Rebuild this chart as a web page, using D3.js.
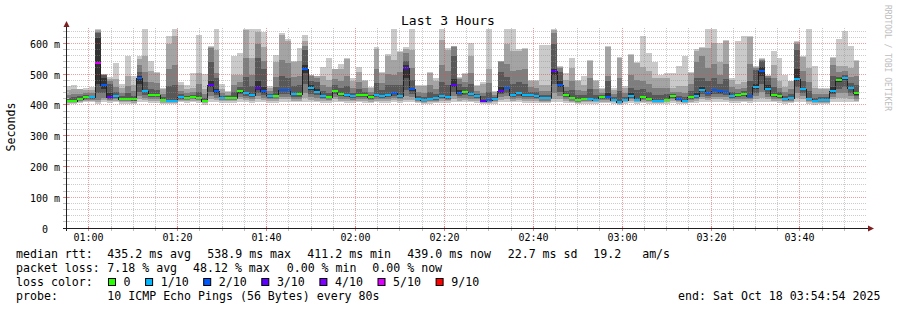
<!DOCTYPE html>
<meta charset="utf-8">
<style>
body { margin: 0; background: #fff; }
text { font-family: "DejaVu Sans Mono", monospace; fill: #000; white-space: pre; }
.minor { stroke: rgba(143,143,143,0.45); stroke-dasharray: 1,1; fill: none; }
.major { stroke: rgba(222,79,79,0.55); stroke-dasharray: 1,1; fill: none; }
</style>
<div id="chart"></div>
<script src="https://d3js.org/d3.v7.min.js"></script>
<script>

// median rtt per 80s step (ms)
var median = [416,416,422,427,426,539,467,427,430,421, 421,420,489,447,433,433,419,416,416,427,
  424,428,424,416,468,446,424,424,424,446, 440,433,457,446,431,432,450,450,436,438,
  519,456,445,430,428,448,438,433,430,435, 433,428,435,431,433,441,431,522,452,422,
  417,422,424,430,426,468,441,445,438,430, 415,418,421,446,457,435,441,433,433,430,
  424,424,511,468,433,424,417,422,422,419, 428,428,419,411,419,431,419,428,422,416,
  416,419,430,422,416,428,431,450,441,450, 446,443,431,433,438,430,459,511,454,435,
  431,422,424,487,455,422,414,417,417,446, 483,490,457,439];

// lost pings (out of 10) per step
var loss = [0,0,0,0,1,5,2,3,1,0, 0,0,2,1,0,0,0,1,1,1, 0,0,0,0,3,2,1,0,0,0,
  1,1,3,2,1,0,2,2,1,0, 2,1,1,1,0,0,0,1,1,0, 0,0,1,1,1,2,1,3,2,1,
  1,1,1,1,1,3,2,0,1,1, 3,2,1,3,2,1,1,1,1,1, 1,1,3,2,0,0,0,0,1,1,
  0,2,1,1,1,1,1,0,0,1, 1,0,0,2,1,0,1,1,2,2, 2,2,1,0,0,2,1,2,1,0,
  0,1,1,1,1,1,1,1,1,1, 0,1,1,0];

// sorted ping rtts per step (ms)
var pings = [
  [405,409,411,413,415,419,424,435,450,463],[404,408,411,413,415,419,426,437,455,465],
  [408,412,415,418,420,425,430,438,452,455],[410,414,418,422,425,430,433,440,450,457],
  [410,414,418,421,424,429,432,439,450,460],[405,412,418,440,470,620,636,640,645,650],
  [410,418,425,440,455,490,498,500,502,503],[408,413,418,422,425,440,470,480,487,491],
  [410,415,420,425,428,433,444,460,485,537],[405,410,414,417,419,424,430,441,457,470],
  [405,410,414,417,419,424,440,462,495,560],[405,409,413,416,418,423,432,446,468,495],
  [410,420,430,445,470,495,510,530,550,560],[410,418,425,435,443,450,475,509,560,650],
  [408,415,420,426,430,436,452,476,511,545],[408,414,420,426,430,436,451,473,505,510],
  [405,409,413,416,418,422,427,437,452,458],[404,408,411,413,415,419,462,517,600,627],
  [404,408,411,413,415,419,468,531,625,650],[410,414,418,422,425,430,437,448,466,475],
  [408,413,417,420,422,427,431,439,452,466],[410,415,420,424,426,431,435,444,457,506],
  [408,413,417,420,422,427,444,469,506,630],[403,408,411,413,415,419,425,436,452,503],
  [410,420,430,445,460,480,540,587,590,592],[410,418,425,435,442,455,490,506,580,650],
  [408,413,417,420,422,427,432,441,455,470],[408,413,417,420,422,427,430,435,444,446],
  [408,413,417,420,422,427,443,466,500,560],[412,420,428,436,442,449,460,476,500,569],
  [410,418,425,432,437,443,491,553,645,650],[408,415,420,426,430,436,464,500,555,650],
  [410,420,430,440,450,480,555,600,640,650],[410,418,425,435,442,460,520,544,590,640],
  [408,415,420,425,428,434,438,446,458,463],[408,415,420,426,430,435,459,491,540,565],
  [412,420,428,438,446,453,495,549,630,634],[412,420,428,438,446,453,490,538,610,615],
  [410,416,422,428,433,439,462,493,540,544],[410,416,422,428,434,441,465,496,544,587],
  [412,425,440,470,505,530,580,593,610,630],[410,418,426,438,450,465,480,495,498,500],
  [410,416,424,434,442,455,475,490,495,497],[408,414,420,425,428,433,446,466,495,525],
  [408,414,419,423,426,431,442,459,484,553],[412,420,428,438,444,451,465,486,517,520],
  [410,416,422,430,435,441,458,481,517,535],[408,414,420,426,430,436,462,497,550,553],
  [408,414,419,424,428,433,442,457,480,490],[410,416,422,427,432,438,454,476,510,526],
  [408,414,420,426,430,436,444,458,478,484],[407,412,417,422,426,431,435,443,456,460],
  [410,416,422,427,432,438,472,517,585,590],[408,414,420,425,428,434,450,472,505,510],
  [408,414,420,426,430,436,465,503,560,567],[410,418,425,432,438,444,468,500,549,650],
  [408,414,420,425,428,434,467,510,575,578],[410,418,430,450,490,530,545,570,585,590],
  [410,418,426,438,447,455,484,522,580,650],[407,412,416,419,421,425,432,444,462,468],
  [404,409,412,414,416,420,428,442,462,468],[406,411,415,418,420,425,443,468,506,510],
  [407,412,416,419,422,427,438,455,480,490],[408,414,420,425,428,433,476,531,614,650],
  [408,413,418,422,424,429,465,511,580,587],[412,420,430,445,460,485,560,590,592,594],
  [410,416,423,432,438,450,470,485,490,492],[410,418,425,435,442,448,460,477,503,506],
  [410,416,422,430,435,441,469,505,560,603],[408,414,420,425,428,433,438,448,463,466],
  [404,408,411,413,414,418,430,440,470,475],[404,408,412,415,417,421,444,474,520,650],
  [406,410,414,417,419,424,428,434,444,446],[410,418,426,436,442,460,510,540,543,546],
  [412,420,430,442,452,460,493,536,600,650],[410,416,422,428,432,438,470,513,576,650],
  [410,417,424,432,438,444,475,515,576,585],[408,414,420,426,430,436,471,517,585,588],
  [408,414,420,426,430,436,445,459,480,484],[408,414,420,425,428,433,443,458,480,484],
  [407,412,416,420,422,427,435,448,468,596],[407,412,416,420,422,427,435,448,468,596],
  [410,420,440,470,500,520,600,636,645,650],[412,420,430,445,460,480,510,522,525,528],
  [408,414,420,426,430,436,446,461,484,506],[407,412,416,420,422,427,449,478,522,553],
  [404,409,412,414,416,420,433,451,479,484],[406,411,415,418,420,425,433,446,466,497],
  [406,411,415,418,420,425,453,489,544,548],[405,410,413,416,418,422,434,452,479,484],
  [407,412,417,422,426,431,434,441,452,457],[407,412,417,422,426,440,480,495,590,593],
  [405,410,413,416,418,422,427,436,450,457],[401,405,408,410,411,414,447,490,555,558],
  [405,410,413,416,418,422,429,440,458,463],[408,414,420,425,428,440,457,500,565,568],
  [405,410,413,416,418,422,449,484,538,541],[407,412,417,422,426,431,452,481,525,626],
  [406,411,415,418,420,425,444,471,511,569],[404,408,411,413,415,419,435,457,490,542],
  [404,408,411,413,415,419,435,457,490,500],[405,410,413,416,418,422,437,458,490,506],
  [408,414,420,425,428,433,437,445,457,506],[406,411,415,418,420,425,432,445,463,528],
  [404,408,411,413,415,419,428,442,463,560],[407,412,417,422,426,431,448,471,506,510],
  [408,414,420,425,428,440,490,540,578,582],[412,420,428,438,446,460,490,560,587,590],
  [410,417,424,432,438,444,478,521,587,650],[412,420,428,438,446,453,488,534,603,650],
  [412,420,428,436,442,449,470,498,540,603],[410,418,426,434,440,446,485,534,609,612],
  [408,414,420,425,428,434,444,460,484,488],[408,414,420,426,430,436,442,453,470,609],
  [410,416,422,430,435,441,447,458,475,625],[408,414,420,425,428,433,478,536,622,625],
  [412,420,430,442,454,470,515,522,525,528],[412,425,445,470,495,525,545,549,552,555],
  [412,420,428,438,450,465,490,495,497,500],[410,416,422,428,432,438,460,489,533,576],
  [408,414,420,425,428,434,443,458,480,555],[406,411,415,418,420,425,432,443,460,498],
  [407,412,416,420,422,427,438,454,478,481],[412,425,440,460,480,520,580,600,605,609],
  [412,420,430,442,450,458,481,512,558,560],[406,411,415,418,420,425,447,477,522,650],
  [403,407,410,412,413,417,425,438,457,528],[404,409,412,414,416,420,427,438,455,457],
  [404,409,412,414,416,420,427,438,455,457],[412,420,428,436,442,460,495,530,555,558],
  [412,425,440,455,475,486,494,508,528,615],[412,425,440,460,482,493,500,511,528,641],
  [412,420,430,442,452,460,473,493,522,592],[410,416,422,430,435,442,465,497,544,547]
];

var lossSteps = [0,1,2,3,4,5,9];
var lossLabels = ["0","1/10","2/10","3/10","4/10","5/10","9/10"];
var lossColors = ["#26ff00","#00b8ff","#0059ff","#5e00ff","#7e00ff","#dd00ff","#ff0000"];
var smokeColors = ["#cacaca","#a4a4a4","#7e7e7e","#585858","#323232"];
var yTickValues = [0,100,200,300,400,500,600];

var statsRtt = [["median rtt:",16],["435.2 ms avg",107.3],["538.9 ms max",207.3],["411.2 ms min",307.3],
  ["439.0 ms now",407.3],["22.7 ms sd",507.7],["19.2   am/s",593.3]];
var statsLoss = [["packet loss:",16],["7.18 % avg",107.3],["48.12 % max",193],["0.00 % min",286.7],["0.00 % now",372.3]];

var width = 897, height = 310;
var svg = d3.select("#chart").append("svg")
    .attr("width", width).attr("height", height).style("display", "block");
svg.append("rect").attr("width", width).attr("height", height).attr("fill", "#fff");

var tEnd = Date.UTC(2025, 9, 18, 3, 54, 54);
var tStart = tEnd - 3 * 3600 * 1000;
var step = 80 * 1000;
var firstCol = tStart - 4000;
var times = median.map(function(d, i) { return new Date(firstCol + i * step); });

var x = d3.scaleUtc().domain([new Date(tStart), new Date(tEnd)]).range([65.7, 865.7]);
var y = d3.scaleLinear().domain([0, 650]).range([228.5, 28.5]);

svg.append("clipPath").attr("id", "plot")
  .append("rect").attr("x", 67).attr("y", 20).attr("width", 800).attr("height", 209);

var g = svg.append("g").attr("clip-path", "url(#plot)").attr("shape-rendering", "crispEdges");

// smoke: outer band lightest, inner darkest
smokeColors.forEach(function(c, b) {
  g.selectAll(".band" + b)
    .data(pings)
  .enter().append("rect")
    .attr("x", function(d, i) { return x(times[i]); })
    .attr("width", function(d, i) { return x(new Date(+times[i] + step)) - x(times[i]); })
    .attr("y", function(d) { return y(d[9 - b]); })
    .attr("height", function(d) { return y(d[b]) - y(d[9 - b]); })
    .attr("fill", c);
});

// median step line
var medPts = median.map(function(d, i) { return [times[i], d]; });
medPts.push([new Date(+times[times.length - 1] + step), median[median.length - 1]]);
g.append("path")
  .datum(medPts)
  .attr("fill", "none")
  .attr("stroke", "#202020")
  .attr("stroke-width", 1)
  .attr("d", d3.line().curve(d3.curveStepAfter)
    .x(function(d) { return x(d[0]); })
    .y(function(d) { return Math.round(y(d[1])) + 0.5; }));

function lossColor(n) {
  for (var j = 0; j < lossSteps.length; j++) if (n <= lossSteps[j]) return lossColors[j];
  return lossColors[lossColors.length - 1];
}
g.selectAll(".med")
  .data(median)
.enter().append("rect")
  .attr("x", function(d, i) { return x(times[i]); })
  .attr("width", function(d, i) { return x(new Date(+times[i] + step)) - x(times[i]); })
  .attr("y", function(d) { return Math.round(y(d)) - 1; })
  .attr("height", 2)
  .attr("fill", function(d, i) { return lossColor(loss[i]); });

// grid
var grid = svg.append("g").attr("shape-rendering", "crispEdges");
var minorX = d3.utcMinute.every(5).range(new Date(tStart), new Date(tEnd));
var majorX = minorX.filter(function(t) { return t.getUTCMinutes() % 20 === 0; });
minorX = minorX.filter(function(t) { return t.getUTCMinutes() % 20 !== 0; });
var minorY = d3.range(20, 650, 20).filter(function(v) { return v % 100 !== 0; });
var majorY = yTickValues.filter(function(v) { return v > 0; });

function px(t) { return Math.round(x(t)) + 0.5; }
function py(v) { return Math.round(y(v)) - 0.5; }

grid.selectAll(".vmin").data(minorX).enter().append("line").attr("class", "minor")
  .attr("x1", px).attr("x2", px).attr("y1", 28).attr("y2", 228);
grid.selectAll(".hmin").data(minorY).enter().append("line").attr("class", "minor")
  .attr("x1", 67).attr("x2", 866).attr("y1", py).attr("y2", py);
grid.selectAll(".vmaj").data(majorX).enter().append("line").attr("class", "major")
  .attr("x1", px).attr("x2", px).attr("y1", 28).attr("y2", 228);
grid.selectAll(".hmaj").data(majorY).enter().append("line").attr("class", "major")
  .attr("x1", 67).attr("x2", 866).attr("y1", py).attr("y2", py);

// small ticks on the axes
grid.selectAll(".tx").data(minorX.concat(majorX)).enter().append("line")
  .attr("stroke", function(t) { return t.getUTCMinutes() % 20 === 0 ? "#e08080" : "#c0c0c0"; })
  .attr("x1", px).attr("x2", px).attr("y1", 226).attr("y2", 231);
grid.selectAll(".ty").data(minorY.concat(yTickValues)).enter().append("line")
  .attr("stroke", function(v) { return v % 100 === 0 ? "#e08080" : "#c0c0c0"; })
  .attr("x1", 63).attr("x2", 69).attr("y1", py).attr("y2", py);

// axes
svg.append("line").attr("x1", 63).attr("x2", 869).attr("y1", 228.5).attr("y2", 228.5)
  .attr("stroke", "#1f1f1f").attr("shape-rendering", "crispEdges");
svg.append("line").attr("x1", 66.5).attr("x2", 66.5).attr("y1", 231).attr("y2", 25)
  .attr("stroke", "#1f1f1f").attr("shape-rendering", "crispEdges");
svg.append("path").attr("d", "M868,225.5L874,228.5L868,231.5Z").attr("fill", "#801f1f");
svg.append("path").attr("d", "M63.5,27L66.5,21L69.5,27Z").attr("fill", "#801f1f");

// tick labels
svg.selectAll(".ylab").data(yTickValues).enter().append("text")
  .attr("x", 60).attr("y", function(v) { return py(v) + 4; })
  .attr("text-anchor", "end").style("font-size", "10px")
  .text(function(v) { return v === 0 ? "0  " : v + " m"; });
svg.selectAll(".xlab").data(majorX).enter().append("text")
  .attr("x", px).attr("y", 241)
  .attr("text-anchor", "middle").style("font-size", "10px")
  .text(d3.utcFormat("%H:%M"));

// titles
svg.append("text").attr("x", 448).attr("y", 25).attr("text-anchor", "middle")
  .style("font-size", "13px").text("Last 3 Hours");
svg.append("text").attr("transform", "translate(15,127) rotate(-90)").attr("text-anchor", "middle")
  .style("font-size", "11.6px").text("Seconds");
svg.append("text").attr("transform", "translate(884.5,5) rotate(90)")
  .style("font-size", "8px").style("fill", "#bdbdbd").text("RRDTOOL / TOBI OETIKER");

// legend
var fs = "11.6px";
statsRtt.forEach(function(s) {
  svg.append("text").attr("x", s[1]).attr("y", 258).style("font-size", fs).text(s[0]);
});
statsLoss.forEach(function(s) {
  svg.append("text").attr("x", s[1]).attr("y", 272).style("font-size", fs).text(s[0]);
});
svg.append("text").attr("x", 16).attr("y", 286).style("font-size", fs).text("loss color:");
var cx = 109;
lossLabels.forEach(function(l, i) {
  svg.append("rect").attr("x", cx - 0.5).attr("y", 278.5).attr("width", 7).attr("height", 7)
    .attr("fill", lossColors[i]).attr("stroke", "#000");
  svg.append("text").attr("x", cx + 14.6).attr("y", 286).style("font-size", fs).text(l);
  cx = cx + 14.6 + l.length * 7 + 15.5;
});
svg.append("text").attr("x", 16).attr("y", 300).style("font-size", fs).text("probe:");
svg.append("text").attr("x", 107.3).attr("y", 300).style("font-size", fs)
  .text("10 ICMP Echo Pings (56 Bytes) every 80s");
svg.append("text").attr("x", 880.5).attr("y", 300).attr("text-anchor", "end").style("font-size", fs)
  .text("end: Sat Oct 18 03:54:54 2025");
</script>
